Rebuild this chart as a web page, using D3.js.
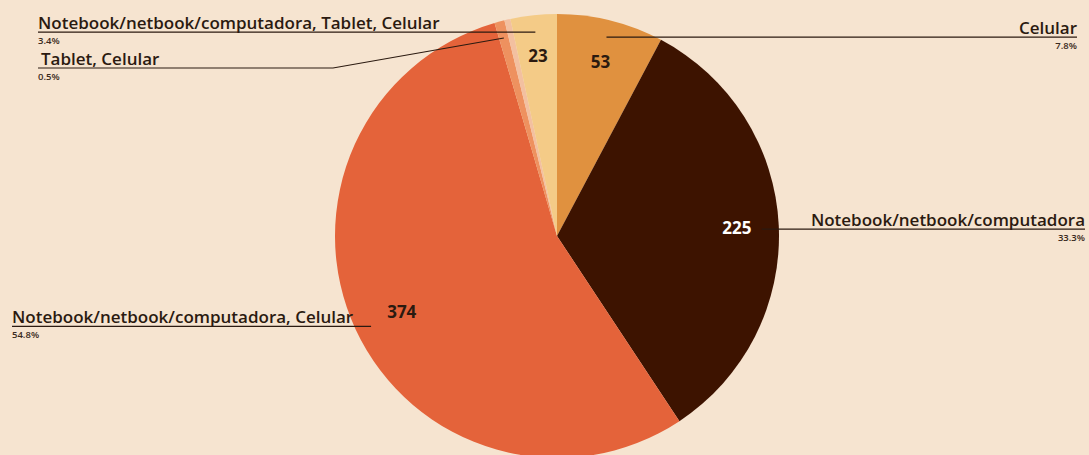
<!DOCTYPE html>
<html>
<head>
<meta charset="utf-8">
<script src="https://cdn.jsdelivr.net/npm/d3@7"></script>
<style>
  html, body { margin: 0; padding: 0; background: #F6E4D0; }
  svg { display: block; }
  text { font-family: "Open Sans", Lato, sans-serif; }
</style>
</head>
<body>
<svg id="chart" width="1089" height="455"></svg>
<script>
// ---- data ----
const categories = [
  "Celular",
  "Notebook/netbook/computadora",
  "Notebook/netbook/computadora, Celular",
  "Tablet, Celular",
  "Notebook/netbook/computadora, Tablet",
  "Notebook/netbook/computadora, Tablet, Celular"
];
const values = [53, 225, 374, 5, 3, 23];
const percentLabels = ["7.8%", "33.3%", "54.8%", "0.5%", "", "3.4%"];
const showValue = [true, true, true, false, false, true];
const showLabel = [true, true, true, true, false, true];
const colors = ["#E0913F", "#3D1300", "#E4633A", "#EE915F", "#F3C0A0", "#F4CB87"];
const valueTextColors = ["#2B1A10", "#FFFFFF", "#2B1A10", "#2B1A10", "#2B1A10", "#2B1A10"];

// ---- layout ----
const W = 1089, H = 455;
const cx = 557, cy = 236, R = 222;
const svg = d3.select("#chart");
svg.append("rect").attr("width", W).attr("height", H).attr("fill", "#F6E4D0");

const data = categories.map((c, i) => ({ name: c, value: values[i], i }));
const pie = d3.pie().value(d => d.value).sort(null).startAngle(0).endAngle(2 * Math.PI);
const arcs = pie(data);
const arc = d3.arc().innerRadius(0).outerRadius(R);
const g = svg.append("g").attr("transform", `translate(${cx},${cy})`);

g.selectAll("path").data(arcs).join("path")
  .attr("d", arc)
  .attr("fill", d => colors[d.data.i]);

// value labels inside (centroid radius 180)
const valueArc = d3.arc().innerRadius(180).outerRadius(180);
g.selectAll("text.val").data(arcs.filter(d => showValue[d.data.i])).join("text")
  .attr("class", "val")
  .attr("x", d => valueArc.centroid(d)[0] + (d.data.i === 2 ? 8 : 0))
  .attr("y", d => valueArc.centroid(d)[1] + (d.data.i === 5 ? -2 : 0))
  .attr("text-anchor", "middle")
  .attr("dominant-baseline", "central")
  .attr("font-size", 17)
  .attr("font-weight", 700)
  .attr("fill", d => valueTextColors[d.data.i])
  .text(d => d.data.value);

// leader lines + outside labels (line start at radius 205)
const pointArc = d3.arc().innerRadius(205).outerRadius(205);
const labelLayout = {
  0: { anchor: "end", xEnd: 1077, dy: 0 },
  1: { anchor: "end", xEnd: 1085, dy: 3 },
  2: { anchor: "start", xEnd: 12, dy: 4 },
  3: { anchor: "start", xEnd: 38, elbow: [333, 68] },
  5: { anchor: "start", xEnd: 38, dy: 0 }
};
const lg = svg.append("g");
arcs.forEach(d => {
  const i = d.data.i;
  if (!showLabel[i]) return;
  const L = labelLayout[i];
  const c = pointArc.centroid(d);
  const p = [cx + c[0], cy + c[1]];
  let pts, yLine;
  if (L.elbow) {
    yLine = L.elbow[1];
    pts = [p, L.elbow, [L.xEnd, yLine]];
  } else {
    yLine = p[1] + L.dy;
    pts = [[p[0], yLine], [L.xEnd, yLine]];
  }
  lg.append("path")
    .attr("d", d3.line()(pts))
    .attr("fill", "none")
    .attr("stroke", "#2B1A10")
    .attr("stroke-width", 1.2);
  const tx = L.anchor === "start" ? L.xEnd + (i === 3 ? 3 : 0) : L.xEnd;
  lg.append("text")
    .attr("x", tx)
    .attr("y", yLine - 3)
    .attr("text-anchor", L.anchor)
    .attr("font-size", 17)
    .attr("font-weight", 600)
    .attr("fill", "#2B1A10")
    .text(categories[i]);
  lg.append("text")
    .attr("x", L.xEnd)
    .attr("y", yLine + 12)
    .attr("text-anchor", L.anchor)
    .attr("font-size", 9.5)
    .attr("font-weight", 600)
    .attr("fill", "#3A2A20")
    .text(percentLabels[i]);
});
</script>
</body>
</html>
